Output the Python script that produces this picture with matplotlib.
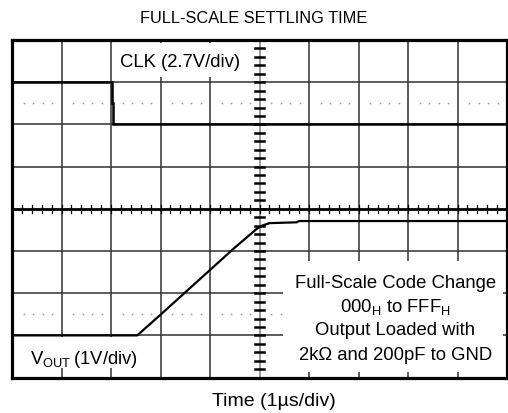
import matplotlib
matplotlib.use("Agg")
import matplotlib.pyplot as plt
from matplotlib.patches import Rectangle
import numpy as np

plt.rcParams['font.family'] = ['Liberation Sans', 'DejaVu Sans']
plt.rcParams['mathtext.default'] = 'regular'

# ---- data (screen divisions: x = 1 us/div, y = divisions) ----
clk_t = [0, 2.02, 2.02, 2.05, 2.05, 10]
clk_v = [7, 7, 6.5, 6.5, 6, 6]
vout_t = [0, 2.53, 3.0, 3.5, 4.0, 4.5, 4.8, 4.95, 5.05, 5.2, 5.75, 5.8, 10]
vout_v = [1.0, 1.0, 1.49, 2.02, 2.55, 3.08, 3.38, 3.53, 3.6, 3.66, 3.68, 3.71, 3.71]
ref_levels = [6.5, 1.5]

title = "FULL-SCALE SETTLING TIME"
xlabel = "Time (1\u00b5s/div)"
clk_label = "CLK (2.7V/div)"
vout_label = "V$_{OUT}\\,$(1V/div)"
note_lines = ["Full-Scale Code Change",
              "000$_{H}$ to FFF$_{H}$",
              "Output Loaded with",
              "2k\u03a9 and 200pF to GND"]

W, H = 508, 414
fig = plt.figure(figsize=(W / 100, H / 100), dpi=100)
L, R, T, B = 12, 507, 41, 378.6
ax = fig.add_axes([L / W, 1 - B / H, (R - L) / W, (B - T) / H])
ax.set_xlim(0, 10)
ax.set_ylim(0, 8)
ax.set_xticks([])
ax.set_yticks([])
for s in ax.spines.values():
    s.set_linewidth(2.3)
    s.set_color('black')
    s.set_zorder(10)

gc = '#383838'
for x in range(1, 10):
    if x != 5:
        ax.axvline(x, color=gc, lw=1.15, zorder=1)
for y in range(1, 8):
    if y != 4:
        ax.axhline(y, color=gc, lw=1.15, zorder=1)

# dotted reference lines
dx = np.array([i + 0.24 + 0.19 * k for i in range(10) for k in range(4)])
for lv in ref_levels:
    ax.plot(dx, np.full_like(dx, lv), ls='none', marker='s', ms=1.1,
            mfc='#999999', mec='none', zorder=1)

# centre axes
ax.axhline(4, color='black', lw=2.0, zorder=2)
ax.axvline(5, color='#999999', lw=1.4, zorder=2)
for xt in np.arange(0.2, 10, 0.2):
    ax.plot([xt, xt], [4 - 0.09, 4 + 0.09], color='black', lw=0.9, zorder=2)
for yt in np.arange(0.2, 8, 0.2):
    ax.plot([5 - 0.1, 5 + 0.1], [yt, yt], color='black', lw=1.8, zorder=2)

# white label backgrounds
ax.add_patch(Rectangle((2.08, 7.12), 2.67, 0.82, fc='white', ec='none', zorder=3))
ax.add_patch(Rectangle((0.06, 0.23), 2.53, 0.73, fc='white', ec='none', zorder=3))
ax.add_patch(Rectangle((5.47, 0.13), 4.45, 2.63, fc='white', ec='none', zorder=3))

# traces
ax.plot(clk_t, clk_v, color='black', lw=1.8, zorder=4, solid_joinstyle='miter')
ax.plot(vout_t, vout_v, color='black', lw=1.6, zorder=4)

fs = 13.3
ax.text(3.39, 7.48, clk_label, fontsize=fs, ha='center', va='center', zorder=5)
ax.text(0.36, 0.345, vout_label, fontsize=fs, ha='left', va='baseline', zorder=5)
for txt, yb in zip(note_lines, [2.14, 1.585, 1.033, 0.44]):
    ax.text(7.74, yb, txt, fontsize=fs, ha='center', va='baseline', zorder=5)

fig.text(0.5, 1 - 23.3 / H, title, fontsize=11.8, ha='center', va='baseline')
fig.text(274 / W, 1 - 406 / H, xlabel, fontsize=14, ha='center', va='baseline')

fig.savefig('out.png', dpi=100)
